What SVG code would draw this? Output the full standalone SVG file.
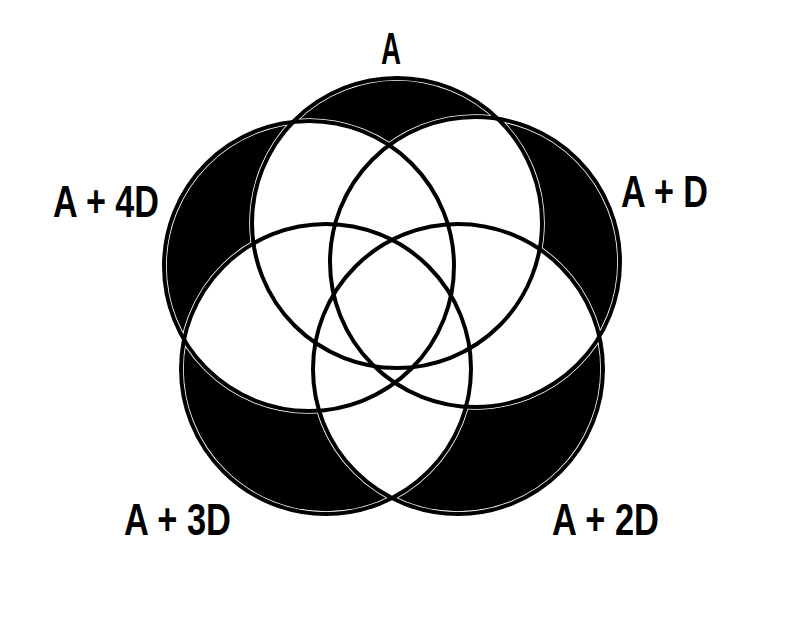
<svg xmlns="http://www.w3.org/2000/svg" xmlns:xlink="http://www.w3.org/1999/xlink" width="804" height="619" viewBox="0 0 804 619">
<style>
.lbl{font-family:"Liberation Sans",Arial,sans-serif;font-weight:bold;font-size:44px;fill:#000;}
.hal{fill:none;stroke:#fff;stroke-width:5.6;}
.edge{fill:none;stroke:#000;stroke-width:4;}
</style>
<defs>
<circle id="k0" cx="397" cy="223" r="145"/>
<circle id="k1" cx="475" cy="262" r="145"/>
<circle id="k2" cx="458" cy="369" r="145"/>
<circle id="k3" cx="326" cy="369" r="145"/>
<circle id="k4" cx="309" cy="266" r="145"/>
<clipPath id="c0"><use xlink:href="#k0"/></clipPath>
<clipPath id="c1"><use xlink:href="#k1"/></clipPath>
<clipPath id="c2"><use xlink:href="#k2"/></clipPath>
<clipPath id="c3"><use xlink:href="#k3"/></clipPath>
</defs>
<rect width="804" height="619" fill="#fff"/>
<g id="regions">
<g fill="#000">
<use xlink:href="#k0"/><use xlink:href="#k1"/><use xlink:href="#k2"/><use xlink:href="#k3"/><use xlink:href="#k4"/>
</g>
<g fill="#fff" clip-path="url(#c0)"><use xlink:href="#k1"/><use xlink:href="#k2"/><use xlink:href="#k3"/><use xlink:href="#k4"/></g>
<g fill="#fff" clip-path="url(#c1)"><use xlink:href="#k2"/><use xlink:href="#k3"/><use xlink:href="#k4"/></g>
<g fill="#fff" clip-path="url(#c2)"><use xlink:href="#k3"/><use xlink:href="#k4"/></g>
<g fill="#fff" clip-path="url(#c3)"><use xlink:href="#k4"/></g>
</g>
<g id="halos">
<use xlink:href="#k0" class="hal"/><use xlink:href="#k1" class="hal"/><use xlink:href="#k2" class="hal"/><use xlink:href="#k3" class="hal"/><use xlink:href="#k4" class="hal"/>
</g>
<g id="set-A"><use xlink:href="#k0" class="edge"/><text class="lbl" x="381" y="64" textLength="20" lengthAdjust="spacingAndGlyphs">A</text></g>
<g id="set-A-D"><use xlink:href="#k1" class="edge"/><text class="lbl" x="621" y="207" textLength="87" lengthAdjust="spacingAndGlyphs">A + D</text></g>
<g id="set-A-2D"><use xlink:href="#k2" class="edge"/><text class="lbl" x="552" y="535" textLength="107" lengthAdjust="spacingAndGlyphs">A + 2D</text></g>
<g id="set-A-3D"><use xlink:href="#k3" class="edge"/><text class="lbl" x="124" y="535" textLength="107" lengthAdjust="spacingAndGlyphs">A + 3D</text></g>
<g id="set-A-4D"><use xlink:href="#k4" class="edge"/><text class="lbl" x="53" y="217" textLength="106" lengthAdjust="spacingAndGlyphs">A + 4D</text></g>
</svg>
